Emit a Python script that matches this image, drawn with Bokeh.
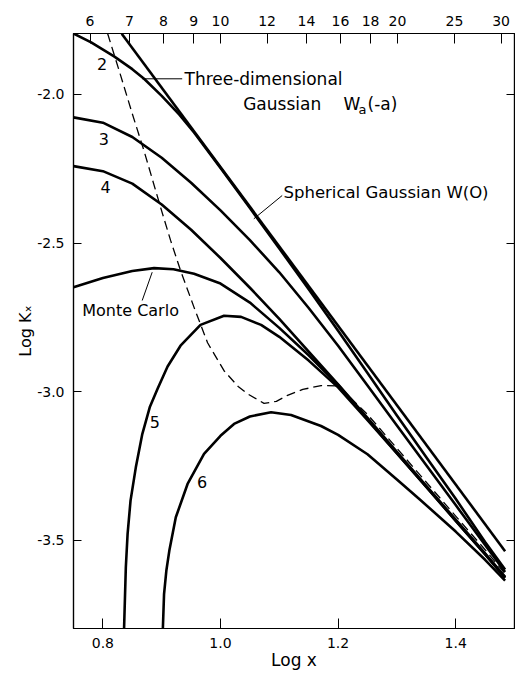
import math
from bokeh.plotting import figure
from bokeh.models import LinearAxis, FixedTicker, Label, Range1d, CustomJSTickFormatter, Title
from bokeh.embed import file_html
from bokeh.resources import INLINE

# ---------------- data ----------------
gauss3d_x = [0.832, 1.484]
gauss3d_y = [-1.796, -3.536]

curve2_x = [0.75, 0.78, 0.819, 0.85, 0.87, 0.90, 0.93, 0.955, 1.0, 1.05, 1.1, 1.15, 1.2, 1.25, 1.3, 1.35, 1.4, 1.45, 1.484]
curve2_y = [-1.795, -1.825, -1.872, -1.915, -1.947, -2.005, -2.068, -2.128, -2.247, -2.382, -2.518, -2.655, -2.795, -2.937, -3.08, -3.22, -3.36, -3.505, -3.598]

curve3_x = [0.75, 0.80, 0.85, 0.90, 0.95, 1.0, 1.05, 1.1, 1.15, 1.2, 1.25, 1.3, 1.35, 1.4, 1.45, 1.484]
curve3_y = [-2.077, -2.095, -2.143, -2.213, -2.297, -2.39, -2.49, -2.598, -2.718, -2.845, -2.979, -3.113, -3.247, -3.381, -3.515, -3.606]

curve4_x = [0.75, 0.80, 0.85, 0.90, 0.95, 1.0, 1.05, 1.1, 1.15, 1.2, 1.25, 1.3, 1.35, 1.4, 1.45, 1.484]
curve4_y = [-2.241, -2.258, -2.30, -2.37, -2.455, -2.55, -2.65, -2.755, -2.865, -2.975, -3.088, -3.202, -3.316, -3.43, -3.543, -3.622]

monte_x = [0.75, 0.80, 0.85, 0.887, 0.92, 0.955, 1.0, 1.05, 1.1, 1.15, 1.2, 1.25, 1.3, 1.35, 1.4, 1.45, 1.484]
monte_y = [-2.648, -2.617, -2.594, -2.584, -2.588, -2.603, -2.636, -2.70, -2.785, -2.877, -2.977, -3.092, -3.206, -3.32, -3.433, -3.546, -3.625]

curve5_x = [0.836, 0.839, 0.842, 0.847, 0.856, 0.867, 0.880, 0.893, 0.910, 0.932, 0.966, 1.006, 1.035, 1.069, 1.1, 1.15, 1.2, 1.25, 1.3, 1.35, 1.4, 1.45, 1.484]
curve5_y = [-3.796, -3.59, -3.478, -3.366, -3.254, -3.142, -3.05, -2.99, -2.915, -2.845, -2.775, -2.744, -2.748, -2.775, -2.815, -2.895, -2.985, -3.095, -3.207, -3.32, -3.434, -3.547, -3.626]

curve6_x = [0.902, 0.904, 0.908, 0.913, 0.924, 0.944, 0.972, 1.0, 1.023, 1.05, 1.086, 1.12, 1.171, 1.2, 1.25, 1.3, 1.339, 1.4, 1.45, 1.484]
curve6_y = [-3.796, -3.68, -3.60, -3.534, -3.422, -3.31, -3.209, -3.148, -3.108, -3.083, -3.069, -3.078, -3.115, -3.145, -3.21, -3.295, -3.362, -3.47, -3.565, -3.635]

dashed_x = [0.808, 0.83, 0.85, 0.87, 0.898, 0.915, 0.932, 0.955, 0.978, 1.006, 1.03, 1.046, 1.074, 1.095, 1.114, 1.14, 1.171, 1.2, 1.25, 1.3, 1.35, 1.4, 1.45, 1.484]
dashed_y = [-1.795, -1.935, -2.065, -2.19, -2.379, -2.49, -2.592, -2.716, -2.835, -2.929, -2.982, -3.007, -3.039, -3.032, -3.012, -2.992, -2.979, -2.98, -3.076, -3.19, -3.304, -3.418, -3.531, -3.612]

bottom_ticks = [0.8, 1.0, 1.2, 1.4]
left_ticks = [-2.0, -2.5, -3.0, -3.5]
top_tick_values = [6, 7, 8, 9, 10, 12, 14, 16, 18, 20, 25, 30]

# ---------------- layout helpers (page pixel -> data) ----------------
X0, X1 = 0.75, 1.50
Y0, Y1 = -3.796, -1.795
FL, FT, FW, FH = 73, 33, 441, 595


def X(px):
    return X0 + (px - FL) * (X1 - X0) / FW


def Y(py):
    return Y1 - (py - FT) * (Y1 - Y0) / FH


FONT = "DejaVu Sans"

p = figure(width=515, height=672, x_range=Range1d(X0, X1), y_range=Range1d(Y0, Y1),
           output_backend="svg", toolbar_location=None,
           min_border_left=73, min_border_right=1, min_border_top=33, min_border_bottom=44)
p.grid.visible = False
p.outline_line_color = "black"
p.outline_line_width = 1.2
p.background_fill_color = "white"
p.border_fill_color = "white"

fmt1 = CustomJSTickFormatter(code="return tick.toFixed(1)")

for ax in p.xaxis:
    ax.ticker = FixedTicker(ticks=bottom_ticks)
    ax.formatter = fmt1
    ax.major_tick_in = 10
    ax.major_tick_out = 0
    ax.minor_tick_line_color = None
    ax.major_label_standoff = 9
    ax.major_label_text_font = FONT
    ax.major_label_text_font_size = "14px"
    ax.major_label_text_color = "black"
    ax.axis_line_color = "black"
    ax.axis_line_width = 1.2
    ax.major_tick_line_color = "black"
    ax.axis_label = "Log x"
    ax.axis_label_text_font = FONT
    ax.axis_label_text_font_size = "17px"
    ax.axis_label_text_font_style = "normal"
    ax.axis_label_text_color = "black"
    ax.axis_label_standoff = -1

for ax in p.yaxis:
    ax.ticker = FixedTicker(ticks=left_ticks)
    ax.formatter = fmt1
    ax.major_tick_in = 8
    ax.major_tick_out = 0
    ax.minor_tick_line_color = None
    ax.major_label_standoff = 9
    ax.major_label_text_font = FONT
    ax.major_label_text_font_size = "14px"
    ax.major_label_text_color = "black"
    ax.axis_line_color = "black"
    ax.axis_line_width = 1.2
    ax.major_tick_line_color = "black"

ylab = Title(text="Log K\u2093", align="center", offset=-14, standoff=0,
             text_font=FONT, text_font_size="16px", text_font_style="normal",
             text_color="black")
p.add_layout(ylab, "left")

top_axis = LinearAxis(ticker=FixedTicker(ticks=[math.log10(v) for v in top_tick_values]),
                      formatter=CustomJSTickFormatter(code="return Math.round(Math.pow(10, tick)).toString()"),
                      major_tick_in=10, major_tick_out=0, minor_tick_line_color=None,
                      major_label_standoff=8, major_label_text_font=FONT,
                      major_label_text_font_size="14px", major_label_text_color="black",
                      axis_line_color="black", axis_line_width=1.2)
p.add_layout(top_axis, "above")

right_axis = LinearAxis(ticker=FixedTicker(ticks=left_ticks),
                        formatter=CustomJSTickFormatter(code="return ''"),
                        major_tick_in=8, major_tick_out=0, minor_tick_line_color=None,
                        major_label_standoff=0, major_label_text_font_size="1px",
                        axis_line_color="black", axis_line_width=1.2)
p.add_layout(right_axis, "right")

# ---------------- curves ----------------
LW = 2.6
p.line(gauss3d_x, gauss3d_y, line_color="black", line_width=LW)
p.line(curve2_x, curve2_y, line_color="black", line_width=LW, line_join="round")
p.line(curve3_x, curve3_y, line_color="black", line_width=LW, line_join="round")
p.line(curve4_x, curve4_y, line_color="black", line_width=LW, line_join="round")
p.line(monte_x, monte_y, line_color="black", line_width=LW, line_join="round")
p.line(curve5_x, curve5_y, line_color="black", line_width=LW, line_join="round")
p.line(curve6_x, curve6_y, line_color="black", line_width=LW, line_join="round")
p.line(dashed_x, dashed_y, line_color="black", line_width=1.3, line_dash="9 5")

# ---------------- pointer lines ----------------
p.line([X(141.7), X(181.7)], [Y(78.3), Y(78.3)], line_color="black", line_width=1.0)
p.line([X(281.7), X(253.3)], [Y(195), Y(218.3)], line_color="black", line_width=1.0)
p.line([X(151.7), X(141.7)], [Y(271.7), Y(300)], line_color="black", line_width=1.0)


def label(px, py, text, size="16px", align="left", angle=0.0):
    p.add_layout(Label(x=X(px), y=Y(py), text=text, text_font=FONT, text_font_size=size,
                       text_color="black", text_align=align, text_baseline="middle",
                       angle=angle))


label(184, 78, "Three-dimensional", size="17px")
label(242.7, 103.5, "Gaussian", size="17px")
label(343, 103.5, "W", size="17px")
label(358, 109, "a", size="13px")
label(367, 103.5, "(-a)", size="17px")
label(283, 192, "Spherical Gaussian W(O)", size="16.5px")
label(81.7, 309.5, "Monte Carlo", size="16px")
label(101.7, 63.3, "2", align="center")
label(103.3, 138.3, "3", align="center")
label(105, 186.7, "4", align="center")
label(154.3, 421.7, "5", align="center")
label(201.7, 481.7, "6", align="center")

open("out.html", "w").write(file_html(p, INLINE))
